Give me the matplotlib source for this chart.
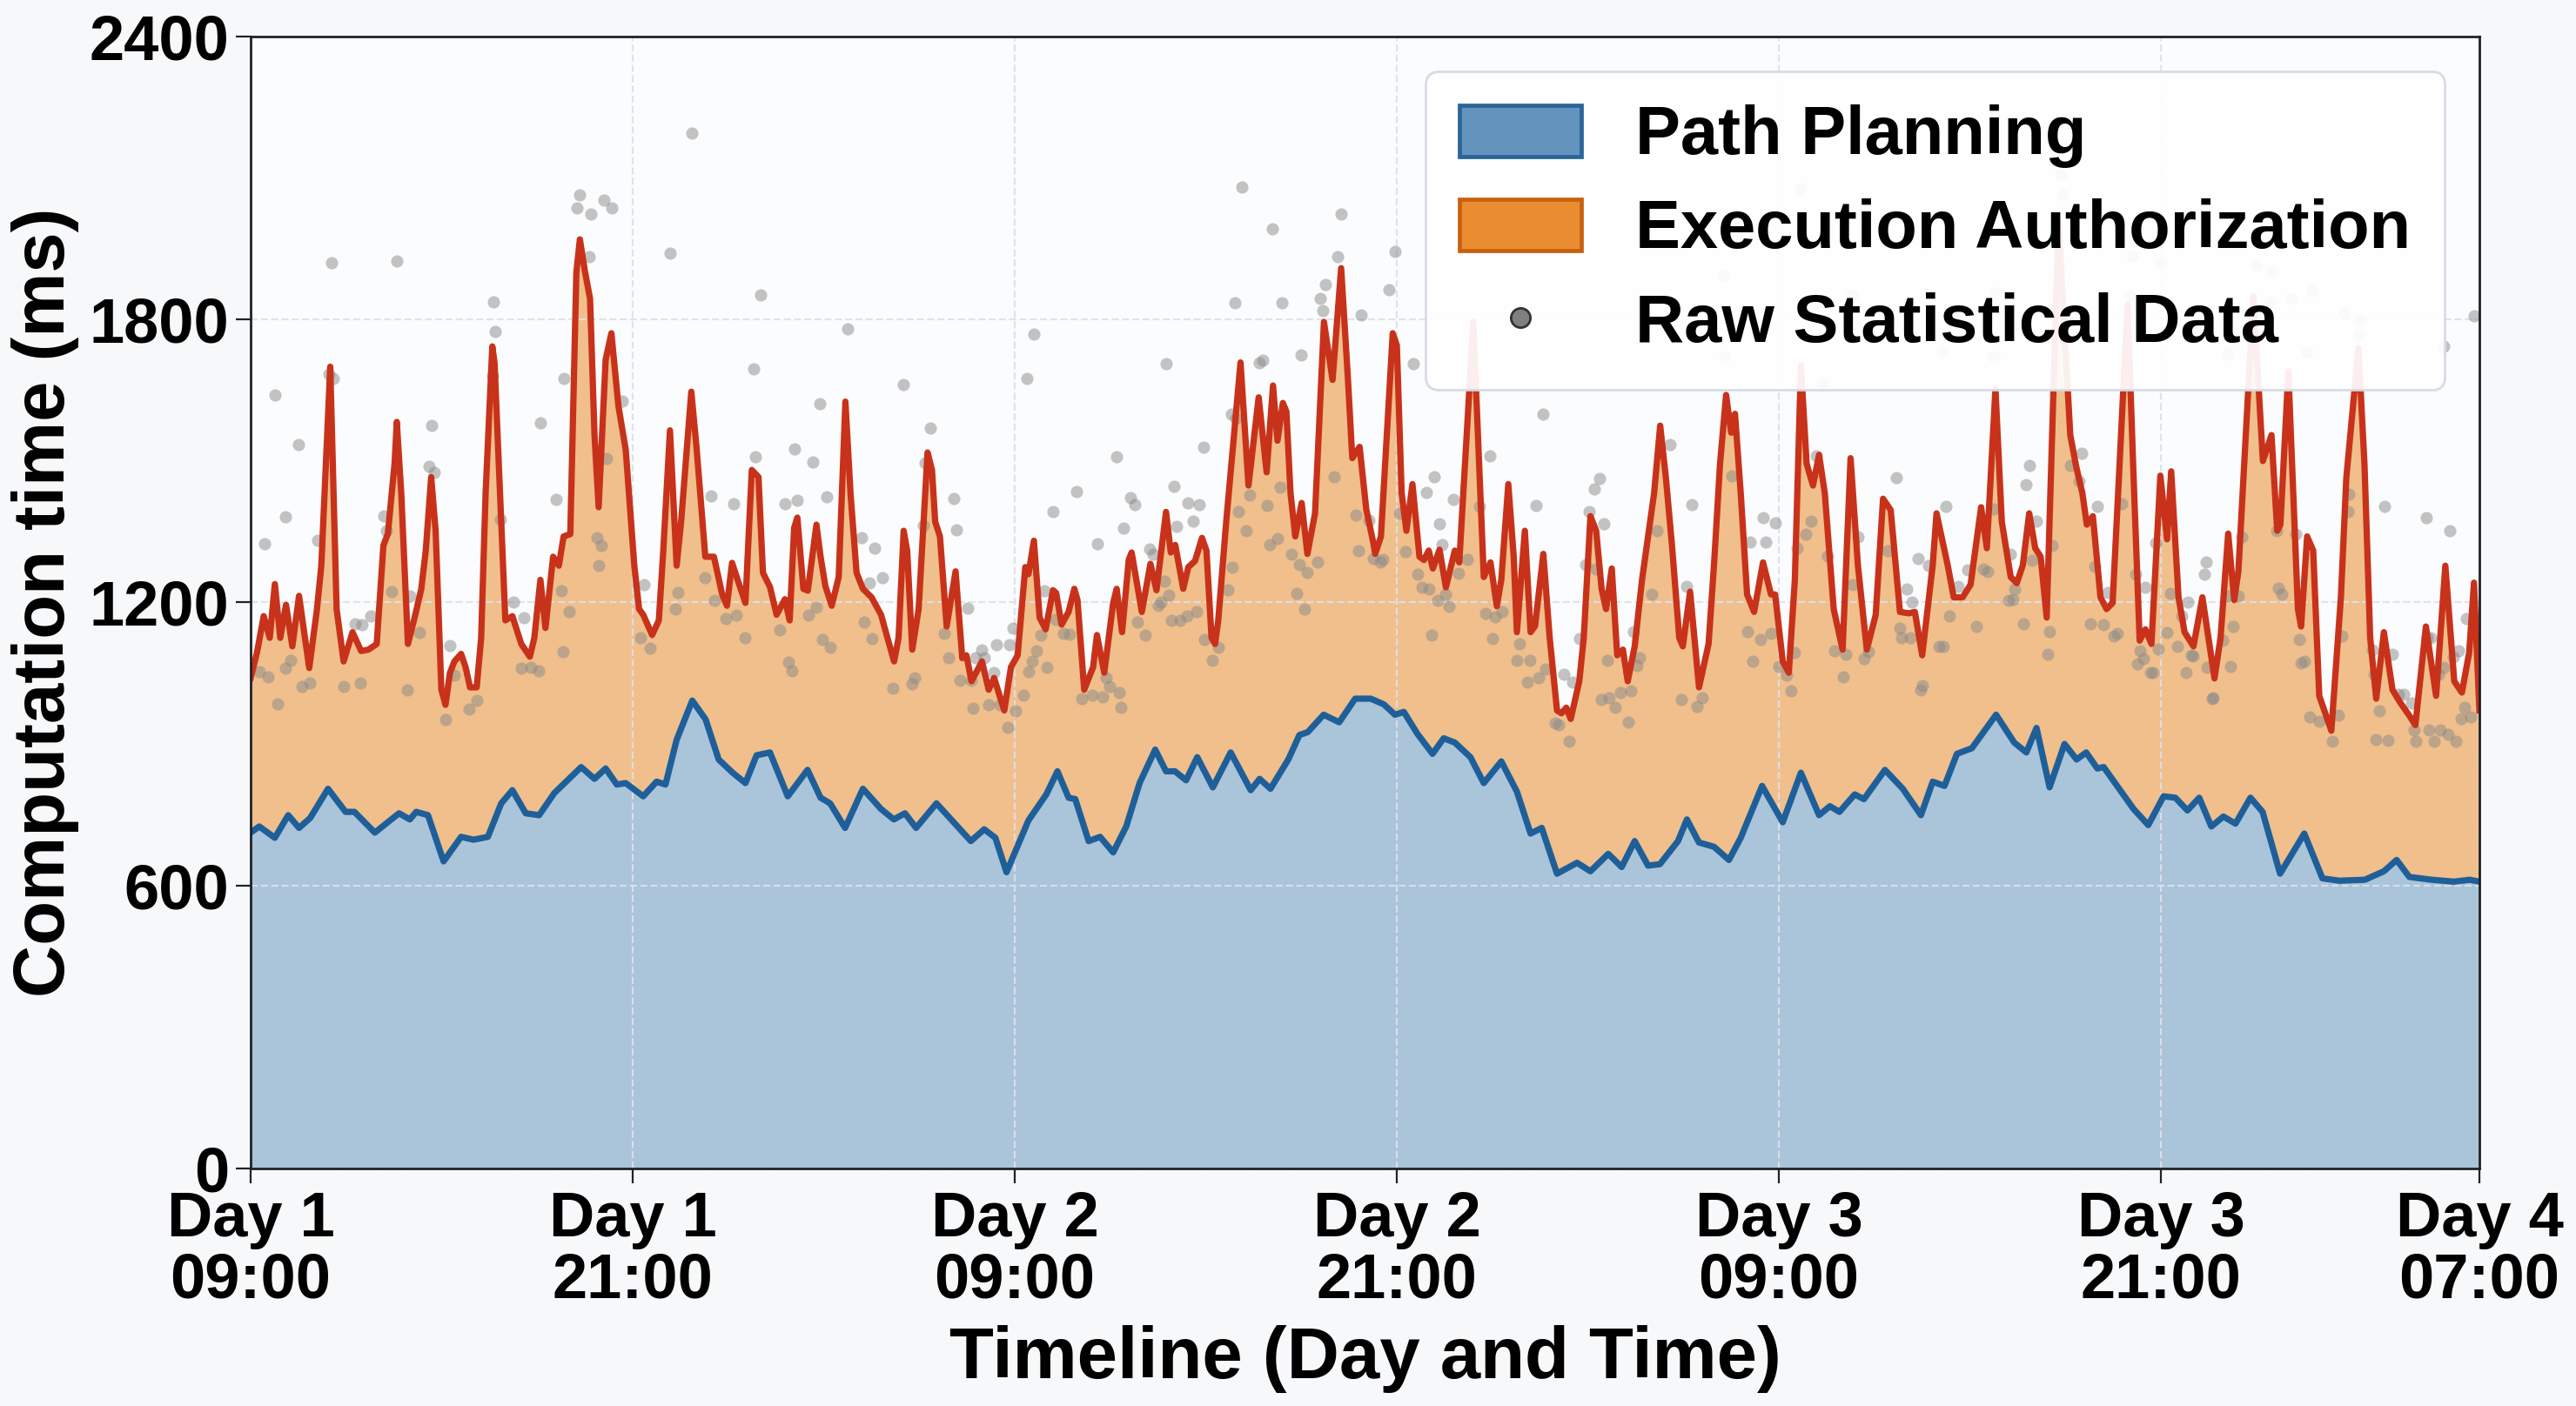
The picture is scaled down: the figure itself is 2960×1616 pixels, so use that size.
import numpy as np
import matplotlib
matplotlib.use("Agg")
import matplotlib.pyplot as plt
from matplotlib.patches import Patch
from matplotlib.lines import Line2D

plt.rcParams['font.family'] = ['Liberation Sans', 'DejaVu Sans']
plt.rcParams['font.weight'] = 'bold'

# hours since Day 1 09:00
tick_hours = [0, 12, 24, 36, 48, 60, 70]
tick_labels = ['Day 1\n09:00', 'Day 1\n21:00', 'Day 2\n09:00', 'Day 2\n21:00',
               'Day 3\n09:00', 'Day 3\n21:00', 'Day 4\n07:00']
y_ticks = [0, 600, 1200, 1800, 2400]

# Path Planning (ms)
plan_h = [0.0, 0.27, 0.76, 1.18, 1.52, 1.87, 2.43, 2.98, 3.26, 3.9, 4.66, 5.0, 5.2, 5.57,
          6.06, 6.61, 7.0, 7.45, 7.87, 8.22, 8.64, 9.06, 9.54, 10.38, 10.8, 11.15, 11.5,
          11.78, 12.33, 12.75, 13.03, 13.38, 13.87, 14.29, 14.7, 15.14, 15.54, 15.89, 16.31,
          16.87, 17.49, 17.9, 18.2, 18.67, 19.23, 19.8, 20.2, 20.55, 20.9, 21.54, 22.2,
          22.62, 23.04, 23.39, 23.74, 24.43, 24.99, 25.34, 25.69, 25.9, 26.32, 26.68, 27.09,
          27.5, 27.92, 28.41, 28.75, 29.03, 29.38, 29.73, 30.22, 30.78, 31.41, 31.69, 32.03,
          32.59, 32.94, 33.2, 33.7, 34.19, 34.69, 35.18, 35.59, 35.94, 36.22, 36.64, 37.12,
          37.47, 37.82, 38.31, 38.73, 39.28, 39.77, 40.2, 40.55, 41.03, 41.66, 42.08, 42.64,
          43.06, 43.47, 43.89, 44.26, 44.83, 45.11, 45.49, 45.96, 46.43, 46.8, 47.47, 48.12,
          48.69, 49.26, 49.6, 49.9, 50.38, 50.67, 51.33, 51.89, 52.46, 52.83, 53.2, 53.59,
          54.06, 54.82, 55.39, 55.77, 56.09, 56.5, 56.97, 57.35, 57.65, 58.0, 58.2, 59.14,
          59.6, 60.08, 60.45, 60.83, 61.2, 61.58, 61.96, 62.34, 62.81, 63.19, 63.74, 64.5,
          65.07, 65.6, 66.4, 67.0, 67.4, 67.8, 68.5, 69.2, 69.7, 70.0]
plan_ms = [712, 725, 701, 749, 722, 743, 805, 756, 756, 712, 753, 740, 756, 749,
           651, 703, 697, 703, 774, 802, 753, 749, 796, 851, 826, 848, 814,
           817, 789, 820, 814, 909, 992, 952, 867, 839, 817, 876, 882,
           789, 845, 786, 774, 722, 805, 762, 740, 753, 722, 774, 725,
           694, 719, 701, 628, 738, 793, 842, 786, 783, 694, 703, 670,
           725, 817, 888, 842, 842, 823, 872, 808, 882, 802, 826, 805,
           867, 919, 925, 962, 946, 996, 996, 984, 962, 968, 922, 879,
           912, 903, 872, 817, 863, 799, 710, 722, 625, 648, 630, 667,
           639, 694, 642, 645, 694, 740, 691, 682, 654, 701, 811, 734,
           839, 749, 768, 756, 793, 783, 845, 805, 749, 820, 811, 879,
           891, 962, 903, 882, 934, 808, 900, 867, 882, 848, 851, 762,
           728, 789, 786, 759, 786, 725, 746, 731, 786, 756, 625, 710,
           615, 610, 612, 630, 654, 618, 612, 608, 612, 608]

# Path Planning + Execution Authorization (ms)
total_h = [0.0, 0.2, 0.41, 0.6, 0.76, 0.93, 1.11, 1.31, 1.52, 1.84, 2.08, 2.22, 2.5, 2.7,
           2.92, 3.2, 3.47, 3.7, 3.96, 4.17, 4.31, 4.52, 4.59, 4.73, 4.94, 5.15, 5.36, 5.5,
           5.67, 5.81, 5.99, 6.12, 6.26, 6.4, 6.61, 6.75, 6.89, 7.1, 7.24, 7.38, 7.59, 7.66,
           8.0, 8.22, 8.5, 8.77, 8.91, 9.1, 9.26, 9.5, 9.68, 9.83, 10.04, 10.23, 10.34, 10.5,
           10.66, 10.8, 10.93, 11.15, 11.33, 11.55, 11.78, 12.05, 12.2, 12.33, 12.61, 12.82,
           12.96, 13.17, 13.38, 13.52, 13.84, 14.0, 14.28, 14.55, 14.81, 14.96, 15.12, 15.33,
           15.54, 15.74, 15.95, 16.09, 16.31, 16.52, 16.78, 16.93, 17.07, 17.17, 17.36, 17.5,
           17.77, 17.9, 18.05, 18.25, 18.47, 18.68, 18.84, 19.03, 19.23, 19.5, 19.8, 20.0,
           20.21, 20.35, 20.51, 20.62, 20.78, 20.98, 21.26, 21.4, 21.5, 21.65, 21.86, 22.14,
           22.35, 22.48, 22.64, 22.97, 23.18, 23.35, 23.67, 23.88, 24.09, 24.33, 24.43, 24.6,
           24.78, 24.97, 25.2, 25.3, 25.47, 25.69, 25.87, 25.97, 26.18, 26.46, 26.58, 26.81,
           27.09, 27.2, 27.37, 27.58, 27.67, 27.99, 28.26, 28.45, 28.75, 28.9, 29.04, 29.29,
           29.45, 29.66, 29.88, 30.02, 30.18, 30.29, 30.39, 30.64, 31.09, 31.34, 31.66, 31.91,
           32.11, 32.25, 32.42, 32.53, 32.66, 32.81, 33.01, 33.19, 33.43, 33.71, 33.98, 34.25,
           34.46, 34.6, 34.83, 35.04, 35.25, 35.32, 35.5, 35.87, 36.0, 36.15, 36.3, 36.49,
           36.71, 36.85, 37.0, 37.13, 37.34, 37.54, 37.82, 37.96, 38.4, 38.73, 38.94, 39.14,
           39.28, 39.5, 39.67, 39.77, 40.02, 40.2, 40.34, 40.6, 40.8, 41.03, 41.17, 41.32,
           41.46, 41.73, 41.87, 42.08, 42.26, 42.43, 42.57, 42.75, 42.92, 43.1, 43.25, 43.47,
           43.7, 44.08, 44.27, 44.45, 44.64, 44.87, 44.98, 45.21, 45.49, 45.79, 45.96, 46.15,
           46.34, 46.5, 46.62, 46.8, 47.0, 47.22, 47.5, 47.75, 47.88, 48.12, 48.31, 48.5,
           48.69, 48.87, 49.07, 49.26, 49.44, 49.72, 50.0, 50.25, 50.48, 50.76, 51.04, 51.27,
           51.51, 51.8, 52.08, 52.27, 52.5, 52.83, 52.95, 53.3, 53.49, 53.77, 54.02, 54.35,
           54.53, 54.8, 55.0, 55.28, 55.47, 55.66, 55.86, 56.05, 56.22, 56.41, 56.78, 57.15,
           57.34, 57.53, 57.67, 57.86, 58.1, 58.29, 58.48, 58.95, 59.14, 59.33, 59.51, 59.7,
           59.98, 60.19, 60.32, 60.55, 60.74, 61.02, 61.3, 61.49, 61.68, 61.87, 62.11, 62.3,
           62.43, 62.9, 63.2, 63.47, 63.65, 63.75, 64.0, 64.3, 64.4, 64.59, 64.78, 64.97,
           65.35, 65.65, 65.82, 66.2, 66.39, 66.57, 66.76, 67.0, 67.27, 67.51, 67.8, 67.99,
           68.32, 68.64, 68.93, 69.21, 69.45, 69.68, 69.83, 70.0]
total_ms = [1040, 1094, 1171, 1125, 1239, 1125, 1195, 1107, 1214, 1061, 1184, 1278, 1700, 1186,
            1075, 1137, 1097, 1100, 1112, 1321, 1346, 1494, 1583, 1432, 1112, 1168, 1229, 1310,
            1466, 1352, 1015, 983, 1051, 1075, 1091, 1063, 1020, 1020, 1125, 1432, 1743, 1709,
            1162, 1171, 1112, 1085, 1125, 1248, 1146, 1297, 1278, 1340, 1345, 1900, 1970, 1902,
            1844, 1555, 1402, 1715, 1771, 1617, 1524, 1278, 1186, 1174, 1131, 1162,
            1310, 1565, 1278, 1371, 1647, 1532, 1297, 1297, 1217, 1193, 1284, 1241,
            1199, 1481, 1466, 1263, 1233, 1174, 1207, 1162, 1358, 1380, 1229, 1225,
            1365, 1297, 1235, 1193, 1254, 1626, 1432, 1263, 1229, 1211, 1174, 1125,
            1075, 1125, 1352, 1310, 1100, 1186, 1518, 1481, 1371, 1340, 1149, 1266,
            1082, 1088, 1033, 1075, 1015, 1040, 971, 1063, 1088, 1275, 1260, 1331,
            1168, 1143, 1226, 1220, 1153, 1180, 1229, 1205, 1015, 1063, 1131, 1051,
            1199, 1229, 1137, 1291, 1306, 1180, 1282, 1226, 1392, 1306, 1322, 1229,
            1275, 1288, 1337, 1310, 1125, 1112, 1162, 1371, 1709, 1448, 1635, 1476,
            1660, 1543, 1623, 1605, 1432, 1340, 1411, 1303, 1389, 1795, 1672, 1909,
            1678, 1506, 1530, 1397, 1330, 1303, 1340, 1771, 1745, 1432, 1352, 1451,
            1297, 1290, 1310, 1272, 1312, 1232, 1310, 1285, 1795, 1254, 1285, 1192,
            1248, 1451, 1297, 1137, 1352, 1137, 1150, 1303, 1125, 971, 965, 977,
            953, 1033, 1125, 1383, 1352, 1229, 1186, 1272, 1088, 1100, 1033, 1107,
            1248, 1432, 1575, 1464, 1322, 1125, 1107, 1223, 1020, 1112, 1279, 1494,
            1640, 1560, 1600, 1432, 1217, 1180, 1285, 1217, 1217, 1075, 1051, 1248,
            1703, 1494, 1448, 1513, 1432, 1186, 1100, 1506, 1279, 1100, 1174, 1420,
            1396, 1180, 1177, 1180, 1088, 1279, 1389, 1279, 1211, 1211, 1238, 1402,
            1315, 1653, 1371, 1254, 1241, 1279, 1389, 1315, 1297, 1168, 2010, 1555,
            1487, 1432, 1365, 1383, 1211, 1186, 1199, 1832, 1464, 1119, 1143, 1112,
            1469, 1334, 1478, 1211, 1137, 1107, 1211, 1125, 1039, 1125, 1346, 1205,
            1266, 1850, 1500, 1555, 1352, 1365, 1690, 1186, 1149, 1340, 1310, 1002,
            928, 1211, 1464, 1740, 1494, 1125, 996, 1137, 1015, 988, 960, 940,
            1149, 1002, 1278, 1033, 1009, 1094, 1242, 971]

# raw statistical samples (hour, ms)
raw_h = [0.76, 2.53, 4.59, 7.62, 7.69, 10.34, 10.26, 10.7, 11.1, 11.34, 10.62, 13.18, 13.87,
         16.03, 15.8, 18.76, 17.87, 20.5, 9.84, 11.67, 5.69, 9.1, 21.34, 2.45, 2.6, 7.6,
         31.12, 34.25, 32.1, 34.15, 35.93, 33.76, 33.6, 30.9, 32.4, 33.68, 35.75, 34.87, 24.6,
         24.37, 28.75, 31.68, 31.8, 33.0, 36.52, 40.6, 30.8, 30.95,
         48.69, 56.86, 56.9, 46.26, 59.1, 60.0, 63.0, 63.5, 64.75, 64.1, 65.76, 66.25, 66.2,
         54.81, 50.29, 53.1, 54.75, 46.3, 49.35, 59.0, 62.11, 63.41, 64.6, 68.89, 69.83,
         0.44, 1.51, 1.09, 2.1, 0.27, 0.56, 0.85, 1.1, 1.6, 1.86, 1.27, 2.93, 3.27, 3.5, 3.44,
         3.78, 4.19, 4.27, 4.44, 4.93, 5.01, 5.61, 5.78, 5.3, 6.26, 6.4, 6.11, 6.85, 7.1, 7.84,
         8.25, 8.58, 8.5, 8.8, 9.04, 9.59, 9.76, 10.0, 9.8, 10.87, 11.02, 10.93, 11.19, 12.36,
         12.25, 12.55, 13.35, 13.43, 14.45, 15.17, 15.85, 14.28, 14.56, 14.92, 15.26, 15.52,
         17.08, 16.77, 17.17, 17.67, 18.1, 16.61, 16.9, 17.0, 17.52, 17.77, 17.96, 18.19, 19.19,
         19.6, 19.84, 19.42, 19.28, 19.51, 20.17, 20.78, 20.85, 21.19, 21.12,
         22.09, 22.17, 22.52, 21.79, 21.93, 22.28, 22.62, 22.95, 22.76, 23.04, 23.35, 23.43,
         22.69, 23.18, 23.52, 23.77, 24.02, 24.28, 23.84, 23.95, 25.19, 25.94, 26.6, 27.19,
         27.42, 27.62, 27.77, 24.44, 24.55, 24.69, 24.83, 25.01, 24.93, 25.27, 25.53, 25.73,
         26.11, 26.43, 26.75, 26.88, 26.99, 27.27, 27.34, 27.85, 28.1, 28.24, 28.34, 28.52,
         28.58, 28.69, 28.84, 28.99, 29.09, 29.44, 29.78, 29.61, 28.93, 29.18, 29.42, 29.7,
         29.93, 29.96, 30.2, 30.39, 30.7, 30.84, 31.02, 31.27, 31.37, 31.93, 32.01, 32.26,
         32.34, 32.68, 32.86, 33.1, 32.94, 33.18, 33.52, 34.02, 34.7, 34.79, 35.11, 35.26,
         35.48, 35.57, 36.08, 36.28, 36.78, 37.0, 36.64, 36.93, 37.17, 37.35, 37.42, 37.77,
         37.1, 37.27, 37.52, 37.63, 37.95, 38.22, 38.6, 38.93, 38.78, 39.08, 39.3, 39.01,
         40.36, 39.86, 39.77, 40.18, 40.1, 40.45, 40.67, 41.24, 40.97, 41.09, 41.41, 41.51,
         41.74, 41.94, 42.04, 42.19, 42.36, 42.51, 42.25, 42.6, 42.41, 42.67, 42.85, 43.03,
         43.27, 43.36, 43.43,
         44.59, 45.26, 45.1, 44.94, 45.43, 45.58, 44.0, 44.17, 43.61, 43.55, 46.53, 47.09,
         47.6, 47.5, 47.9, 47.02, 47.43, 47.75, 47.18, 47.99, 48.24, 48.37, 49.16, 49.01,
         48.84, 48.56, 48.48, 49.54, 49.75, 50.1, 50.03, 50.67, 50.82, 50.33, 50.48, 51.68,
         51.42, 51.85, 52.12, 51.8, 52.36, 52.02, 52.17, 52.51, 52.44, 53.02, 53.15, 52.7,
         53.25, 53.36, 53.62, 53.92, 54.19, 54.43, 54.56, 54.75, 55.22, 55.35, 55.28, 55.41,
         55.69, 55.77, 55.86, 56.09, 55.94, 56.43, 56.5, 56.58, 57.16, 57.5, 57.44, 58.01,
         57.91, 57.77, 58.18, 58.33, 58.52, 58.63, 58.76, 59.2, 59.51, 59.83, 59.33, 59.44,
         59.27, 59.67, 59.74, 59.91, 60.19, 60.29, 60.51, 60.78, 60.94, 61.02, 60.66, 60.85,
         61.42, 61.36, 61.45, 61.62, 61.64, 61.93, 62.19, 62.26, 62.11, 62.43, 62.53, 63.62,
         63.69, 63.79, 64.22, 64.35, 64.41, 64.5, 64.67, 64.97, 65.39, 65.58, 65.69, 65.88,
         65.91, 66.63, 66.7, 66.85, 66.76, 67.14, 67.27, 67.01, 67.46, 67.61, 67.87, 67.95,
         68.0, 68.42, 68.57, 68.78, 69.02, 69.27, 69.43, 69.74, 69.53, 69.58, 69.34, 69.17,
         68.87, 68.72, 68.47, 68.36, 68.32, 69.08]
raw_ms = [1640, 1920, 1924, 1838, 1775, 2064, 2036, 2024, 2053, 2036, 1933, 1940, 2195,
          1852, 1695, 1780, 1621, 1662, 1675, 1627, 1575, 1580, 1570, 1684, 1675, 1680,
          2081, 2024, 1992, 1933, 1944, 1874, 1844, 1835, 1835, 1818, 1863, 1809, 1769,
          1675, 1706, 1708, 1714, 1725, 1706, 1599, 1600, 1590,
          2078, 2108, 2064, 1893, 1936, 1921, 1915, 1902, 1862, 1844, 1813, 1799, 1767,
          1856, 1853, 1733, 1721, 1721, 1666, 1853, 1727, 1838, 1730, 1743, 1807,
          1324, 1535, 1381, 1332, 1054, 1042, 985, 1061, 1022, 1030, 1077, 1022, 1155, 1152, 1030,
          1171, 1383, 1352, 1223, 1015, 1214, 1489, 1476, 1137, 1108, 1045, 952, 974, 993, 1377,
          1201, 1168, 1061, 1063, 1055, 1419, 1224, 1181, 1096, 1337, 1321, 1278, 1506, 1238,
          1125, 1103, 1186, 1221, 1426, 1409, 1509, 1252, 1204, 1165, 1174, 1125,
          1526, 1410, 1417, 1497, 1424, 1142, 1074, 1055, 1174, 1189, 1122, 1104, 1337,
          1316, 1253, 1241, 1158, 1124, 1018, 1027, 1040, 1496, 1363,
          1420, 1354, 1188, 1135, 1082, 1035, 1034, 1099, 1082, 1082, 1052, 1111,
          975, 984, 983, 936, 971, 1004, 1111, 1145, 1392, 1435, 1324, 1509,
          1358, 1422, 1408, 1054, 1075, 1098, 1131, 1062, 1225, 1164, 1134, 1133,
          996, 1004, 999, 1040, 1021, 1009, 977, 1159, 1131, 1313, 1303, 1193,
          1200, 1245, 1215, 1447, 1361, 1411, 1408, 1372, 1163, 1163, 1171, 1180,
          1530, 1122, 1078, 1104, 1226, 1275, 1392, 1352, 1427, 1406, 1323, 1335,
          1444, 1303, 1219, 1187, 1281, 1264, 1285, 1467, 1385, 1309, 1374, 1294,
          1285, 1291, 1389, 1307, 1232, 1229, 1260, 1434, 1466, 1367, 1322, 1419,
          1131, 1205, 1217, 1192, 1262, 1291, 1403, 1510, 1176, 1169, 1181, 1123,
          1406, 1112, 1078, 1078, 1031, 1040, 1058, 1048, 945, 941, 906, 1031,
          1123, 1280, 1392, 1440, 1462, 1366, 1271, 1077, 994, 997, 977, 1009,
          946, 1013, 1139,
          1535, 1408, 1234, 994, 980, 997, 1218, 1352, 1083, 1066, 1469, 1328,
          1328, 1379, 1368, 1138, 1121, 1135, 1075, 1065, 1046, 1012, 1510, 1372,
          1344, 1315, 1094, 1299, 1097, 1090, 1043, 1080, 1096, 1237, 1340, 1464,
          1310, 1126, 1126, 1146, 1294, 1229, 1200, 1023, 1014, 1106, 1106, 1278,
          1403, 1172, 1234, 1269, 1150, 1271, 1266, 1398, 1205, 1206, 1303, 1229,
          1155, 1450, 1490, 1372, 1289, 1091, 1139, 1320, 1490, 1516, 1457, 1403,
          1276, 1154, 1152, 1222, 1129, 1135, 1409, 1259, 1233, 1327, 1097, 1080,
          1069, 1052, 1052, 1101, 1136, 1219, 1107, 1052, 1089, 1086, 1171, 1200,
          1285, 1260, 1063, 996, 998, 1120, 1064, 1150, 1213, 1213, 1340, 1353,
          1230, 1218, 1345, 1122, 1071, 1076, 957, 949, 906, 961, 1129, 1393,
          1430, 1100, 1047, 971, 909, 908, 1091, 1403, 1006, 1006, 986, 930,
          905, 930, 905, 930, 920, 905, 954, 958, 977, 1166, 1097, 1085,
          1063, 1048, 1125, 1125, 1380, 1352]

fig = plt.figure(figsize=(14.8, 8.08), dpi=200, facecolor='#f7f8fa')
ax = fig.add_axes([0.0973, 0.169, 0.8652, 0.805])
ax.set_facecolor('#fbfcfe')

# stacked look: total area in orange, planning area in blue on top of it
ax.fill_between(total_h, 0, total_ms, color='#f0bf8c', linewidth=0, zorder=1)
ax.fill_between(plan_h, 0, plan_ms, color='#aac4da', linewidth=0, zorder=1.5)
ax.scatter(raw_h, raw_ms, s=26, color='#8a8a8a', alpha=0.5, linewidths=0, zorder=3)
ax.plot(plan_h, plan_ms, color='#1f5f99', lw=2.6, solid_joinstyle='round', zorder=4)
ax.plot(total_h, total_ms, color='#c8321a', lw=2.6, solid_joinstyle='round', zorder=5)

ax.set_xlim(0, 70)
ax.set_ylim(0, 2400)
ax.set_xticks(tick_hours)
ax.set_xticklabels(tick_labels, fontsize=26, fontweight='bold', linespacing=1.05)
ax.set_yticks(y_ticks)
ax.set_yticklabels([str(v) for v in y_ticks], fontsize=26, fontweight='bold')
ax.tick_params(axis='both', length=6, width=0.8, color='#222222', pad=3)

ax.grid(True, linestyle='--', color='#dde1ea', linewidth=0.8, alpha=0.9, zorder=2)
ax.set_axisbelow(False)
for sp in ax.spines.values():
    sp.set_color('#1e2126')
    sp.set_linewidth(1.0)
    sp.set_zorder(6)

ax.set_xlabel('Timeline (Day and Time)', fontsize=30, fontweight='bold', labelpad=6)
ax.set_ylabel('Computation time (ms)', fontsize=30, fontweight='bold', labelpad=4)

handles = [
    Patch(facecolor='#6494bd', edgecolor='#2a6499', linewidth=1.7, label='Path Planning'),
    Patch(facecolor='#e98d30', edgecolor='#c8600f', linewidth=1.7, label='Execution Authorization'),
    Line2D([0], [0], marker='o', linestyle='none', markersize=8, markerfacecolor='#808080',
           markeredgecolor='#333333', markeredgewidth=1, label='Raw Statistical Data'),
]
leg = ax.legend(handles=handles, loc='upper right', bbox_to_anchor=(0.9845, 0.9696),
                borderaxespad=0, prop={'size': 28, 'weight': 'bold'}, frameon=True,
                fancybox=True, framealpha=0.93, edgecolor='#d5dae3', facecolor='white',
                handlelength=1.8, handleheight=0.8, handletextpad=0.8,
                labelspacing=0.45, borderpad=0.5)
leg.get_frame().set_linewidth(1.0)
leg.set_zorder(10)

fig.savefig('out.png', dpi=200, facecolor=fig.get_facecolor())
